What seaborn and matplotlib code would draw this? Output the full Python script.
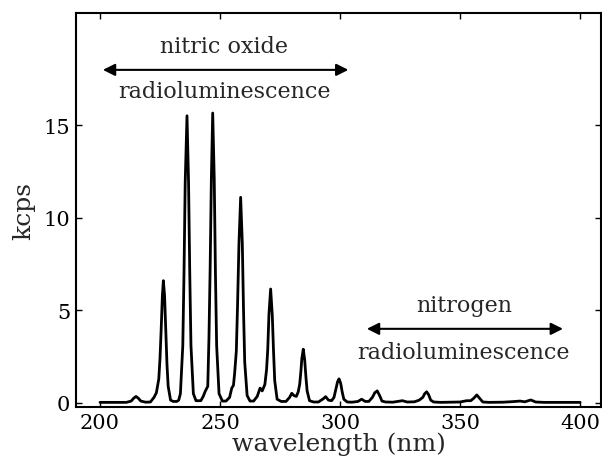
import matplotlib
matplotlib.use("Agg")
import matplotlib.pyplot as plt
import seaborn as sns
import pandas as pd

wavelength = [
    200, 211, 213, 214, 215, 216, 217, 219,
    221, 222.5, 223.5, 224.5, 225, 225.5, 226, 226.4, 226.9, 227.4, 227.9, 228.4, 229.4, 230.5, 232,
    232.8, 233.5, 234.5, 235, 235.5, 236.25, 236.9, 237.4, 237.9, 238.9, 240,
    242, 243, 243.75, 244.9, 245.4, 245.9, 246.4, 246.96, 247.6, 248.1, 248.6, 249.6, 251,
    252.5, 254, 254.9, 255.6, 256.1, 256.8, 257.3, 257.9, 258.6, 259.3, 259.8, 260.3, 261.3, 262.5,
    264, 265.5, 266.7, 267.6, 268.7, 269.4, 269.9, 270.4, 271.1, 271.8, 272.3, 272.8, 273.8, 275.5,
    277.5, 279, 279.9, 280.8, 281.8, 282.6, 283.2, 283.7, 284.1, 284.7, 285.3, 285.8, 286.3, 287.3, 289,
    291, 293, 294, 295.2, 296.5, 297.5, 298.3, 299, 299.6, 300.3, 300.9, 301.6, 303,
    305, 307.5, 309, 310.5, 312, 313.5, 314.5, 315.5, 316.5, 317.5, 319,
    322, 324, 326, 328, 331, 333, 334.5, 335.3, 336.1, 336.9, 337.8, 339,
    342, 347, 350, 352.8, 354.5, 355.7, 357, 358.2, 359.5, 362,
    368, 372, 375, 377, 379.5, 381.5, 385, 392, 400,
]
kcps = [
    0.03, 0.03, 0.1, 0.25, 0.35, 0.25, 0.1, 0.04,
    0.05, 0.3, 0.55, 1.3, 2.4, 4.0, 5.8, 6.6, 5.8, 4.0, 2.1, 0.9, 0.15, 0.08, 0.08,
    0.15, 0.5, 3.1, 7.0, 11.9, 15.5, 11.9, 7.0, 3.1, 0.5, 0.12,
    0.12, 0.35, 0.6, 0.9, 3.5, 7.3, 12.1, 15.65, 12.1, 7.0, 3.1, 0.5, 0.1,
    0.1, 0.3, 0.8, 0.95, 1.6, 2.8, 5.2, 8.6, 11.1, 8.6, 5.0, 2.2, 0.4, 0.1,
    0.1, 0.35, 0.8, 0.65, 1.0, 1.8, 2.9, 4.8, 6.15, 4.7, 2.8, 1.2, 0.2, 0.08,
    0.08, 0.3, 0.52, 0.4, 0.35, 0.6, 1.0, 1.7, 2.4, 2.9, 2.3, 1.4, 0.65, 0.12, 0.05,
    0.05, 0.22, 0.34, 0.15, 0.12, 0.3, 0.75, 1.15, 1.3, 1.05, 0.6, 0.2, 0.05,
    0.04, 0.08, 0.2, 0.08, 0.08, 0.3, 0.55, 0.65, 0.4, 0.1, 0.05,
    0.04, 0.08, 0.12, 0.05, 0.06, 0.15, 0.3, 0.5, 0.6, 0.45, 0.15, 0.05,
    0.03, 0.04, 0.05, 0.12, 0.12, 0.25, 0.43, 0.25, 0.05, 0.03,
    0.04, 0.07, 0.1, 0.06, 0.16, 0.05, 0.03, 0.03, 0.03,
]

x_ticks = [200, 250, 300, 350, 400]
y_ticks = [0, 5, 10, 15]

sns.set_style("ticks")
plt.rcParams["font.family"] = ["DejaVu Serif"]
plt.rcParams["xtick.direction"] = "in"
plt.rcParams["ytick.direction"] = "in"

df = pd.DataFrame({"wavelength": wavelength, "kcps": kcps})

fig = plt.figure(figsize=(6.02, 4.6), dpi=100)
ax = fig.add_axes([76 / 602, 52 / 460, 525 / 602, 394 / 460])
sns.lineplot(data=df, x="wavelength", y="kcps", ax=ax, color="black",
             linewidth=2.0, estimator=None, sort=False)

ax.set_xlim(190, 408.75)
ax.set_ylim(-0.22, 21.05)
ax.set_xticks(x_ticks)
ax.set_yticks(y_ticks)
ax.tick_params(axis="both", which="both", direction="in", top=True, right=True,
               length=4, width=1, labelsize=15, colors="black", pad=4)
for s in ax.spines.values():
    s.set_visible(True)
    s.set_linewidth(1.5)
    s.set_color("black")
ax.set_xlabel("wavelength (nm)", fontsize=18, labelpad=0)
ax.set_ylabel("kcps", fontsize=18, labelpad=6)

arrow = dict(arrowstyle="<|-|>", color="black", lw=1.5, mutation_scale=18,
             shrinkA=0, shrinkB=0)
ax.annotate("", xy=(201.2, 17.98), xytext=(303.5, 17.98), arrowprops=arrow)
ax.text(251.8, 18.96, "nitric oxide", ha="center", va="baseline", fontsize=16)
ax.text(251.8, 16.5, "radioluminescence", ha="center", va="baseline", fontsize=16)

ax.annotate("", xy=(311.2, 4.0), xytext=(392.9, 4.0), arrowprops=arrow)
ax.text(351.8, 4.98, "nitrogen", ha="center", va="baseline", fontsize=16)
ax.text(351.5, 2.41, "radioluminescence", ha="center", va="baseline", fontsize=16)

fig.savefig("out.png", dpi=100)
